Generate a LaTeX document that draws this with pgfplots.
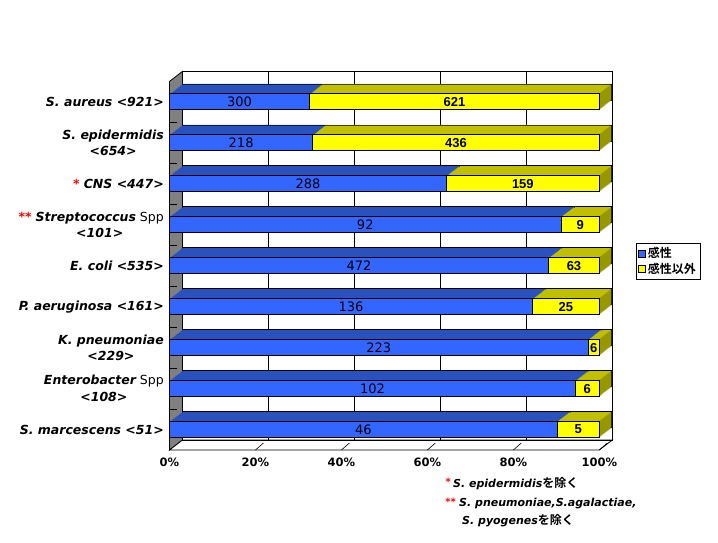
\documentclass[border=0pt]{standalone}
\usepackage{pgfplots}
\pgfplotsset{compat=1.18}
\usepackage{pgfplotstable}
\usepackage{fontspec}
\setmainfont{DejaVu Sans}[ItalicFont={DejaVu Sans Oblique},BoldFont={DejaVu Sans Bold},BoldItalicFont={DejaVu Sans Bold Oblique}]
\newfontfamily\cjk{Noto Sans CJK JP}[BoldFont={Noto Sans CJK JP Bold}]
\newfontfamily\numfont{Liberation Sans}[BoldFont={Liberation Sans Bold}]
\definecolor{fblue}{RGB}{51,102,255}
\definecolor{tblue}{RGB}{42,82,190}
\definecolor{fyel}{RGB}{255,255,0}
\definecolor{tyel}{RGB}{192,192,0}
\definecolor{syel}{RGB}{128,128,0}
\definecolor{wallc}{RGB}{128,128,128}

\pgfplotstableread{
y s r
0 300 621
1 218 436
2 288 159
3 92 9
4 472 63
5 136 25
6 223 6
7 102 6
8 46 5
}\data

\newcommand{\lab}[1]{{\bfseries\itshape #1}}

\pgfplotsset{
 base/.style={
   scale only axis, width=429.8pt, height=368.6pt,
   xmin=0, xmax=100, ymin=-0.5, ymax=8.5, y dir=reverse,
   anchor=south west, clip=false,
 },
 copy/.style={base, hide axis, xbar stacked, bar width=16pt},
}

\begin{document}
\begin{tikzpicture}
% left wall
\draw[fill=wallc, line width=0.8pt] (169.5pt,93pt) -- (169.5pt,461.6pt) -- (182.5pt,471.6pt) -- (182.5pt,103pt) -- cycle;
\foreach \j in {1,...,8} \draw[line width=0.7pt] (169.5pt,{(461.6-\j*40.96)*1pt}) -- ++(7pt,0pt);
% floor
\draw[fill=white, line width=0.8pt] (169.5pt,93pt) -- (599.3pt,93pt) -- (612.3pt,103pt) -- (182.5pt,103pt) -- cycle;
\foreach \i in {1,...,5} \draw[line width=0.6pt] ({(169.5+\i*85.96)*1pt},93pt) -- ++(8pt,7pt);
% back wall
\begin{axis}[base, at={(182.5pt,103pt)}, xtick={0,20,...,100}, xticklabels={}, ytick=\empty,
  xmajorgrids, grid style={black, line width=0.8pt}, axis line style={black, line width=0.8pt},
  major tick length=0pt]
\addplot[draw=none] coordinates {(0,0)};
\end{axis}
% 3D depth of the bars
\foreach \k in {13,12,...,1}{
 \ifnum\k=13 \def\ed{black}\else\def\ed{none}\fi
 \begin{axis}[copy, at={({(169.5+\k)*1pt},{(93+\k*10/13)*1pt})}]
  \addplot[fill=tblue, draw=\ed, line width=0.6pt] table[y=y, x expr={\thisrow{s}/(\thisrow{s}+\thisrow{r})*100}]\data;
  \addplot[fill=tyel, draw=\ed, line width=0.6pt] table[y=y, x expr={\thisrow{r}/(\thisrow{s}+\thisrow{r})*100-0.2327}]\data;
  \addplot[fill=syel, draw=\ed, line width=0.6pt] table[y=y, x expr=0.2327]\data;
 \end{axis}
}
% front faces
\begin{axis}[base, at={(169.5pt,93pt)}, xbar stacked, bar width=16pt,
  axis line style={draw=none}, major tick length=0pt,
  xtick={0,20,...,100}, xticklabels={0\%,20\%,40\%,60\%,80\%,100\%},
  xticklabel style={font=\bfseries\fontsize{11.5}{12}\selectfont, inner sep=0pt, anchor=north, yshift=-8pt},
  ytick={0,...,8},
  yticklabels={
   {\lab{S. aureus <921>}},
   {\lab{S. epidermidis}\\\lab{<654>}},
   {\llap{\color{red}\bfseries *\hspace{4pt}}\lab{CNS <447>}},
   {\llap{\color{red}\bfseries **\hspace{4pt}}\lab{Streptococcus} Spp\\\lab{<101>}},
   {\lab{E. coli <535>}},
   {\lab{P. aeruginosa <161>}},
   {\lab{K. pneumoniae}\\\lab{<229>}},
   {\lab{Enterobacter} Spp\\\lab{<108>}},
   {\lab{S. marcescens <51>}}},
  yticklabel style={align=center, font=\fontsize{12.5}{16.5}\selectfont, inner sep=0pt, xshift=-5.5pt},
  legend style={at={(1.0854,0.5616)}, anchor=north west, draw=black, line width=0.8pt,
    font=\cjk\bfseries\fontsize{12}{13}\selectfont, inner xsep=2pt, inner ysep=2pt,
    row sep=0pt, cells={anchor=west}},
  ]
\addplot[fill=fblue, draw=black, line width=0.8pt,
  legend image code/.code={\draw[fill=fblue,draw=black,line width=0.5pt] (0pt,-3.5pt) rectangle (7pt,3.5pt);}]
  table[y=y, x expr={\thisrow{s}/(\thisrow{s}+\thisrow{r})*100}]\data;
\addplot[fill=fyel, draw=black, line width=0.8pt,
  legend image code/.code={\draw[fill=fyel,draw=black,line width=0.5pt] (0pt,-3.5pt) rectangle (7pt,3.5pt);}]
  table[y=y, x expr={\thisrow{r}/(\thisrow{s}+\thisrow{r})*100}]\data;
\legend{感性,感性以外}
\end{axis}
% value labels
\begin{axis}[base, hide axis, at={(169.5pt,93pt)}, /pgf/number format/assume math mode=true]
\addplot[draw=none, mark=none, nodes near coords, point meta=explicit,
  every node near coord/.append style={anchor=center, text=black, font=\fontsize{13}{14}\selectfont}]
  table[y=y, x expr={\thisrow{s}/(\thisrow{s}+\thisrow{r})*50}, meta=s]\data;
\addplot[draw=none, mark=none, nodes near coords, point meta=explicit,
  every node near coord/.append style={anchor=center, text=black, font=\numfont\bfseries\fontsize{13}{14}\selectfont}]
  table[y=y, x expr={(\thisrow{s}+\thisrow{r}/2)/(\thisrow{s}+\thisrow{r})*100}, meta=r]\data;
\end{axis}
% footnotes
\node[anchor=east, inner sep=0pt, text=red, font=\fontsize{10}{10}\selectfont\bfseries] at (451pt,61pt) {*};
\node[anchor=west, inner sep=0pt] at (453pt,59pt) {\fontsize{11}{13}\selectfont\bfseries\itshape S. epidermidis{\cjk\upshape\fontsize{12}{13}\selectfont を除く}};
\node[anchor=east, inner sep=0pt, text=red, font=\fontsize{10}{10}\selectfont\bfseries] at (456pt,41pt) {**};
\node[anchor=west, inner sep=0pt] at (459pt,39pt) {\fontsize{11}{13}\selectfont\bfseries\itshape S. pneumoniae,S.agalactiae,};
\node[anchor=west, inner sep=0pt] at (462pt,22.3pt) {\fontsize{11}{13}\selectfont\bfseries\itshape S. pyogenes{\cjk\upshape\fontsize{12}{13}\selectfont を除く}};
\pgfresetboundingbox
\path[use as bounding box] (0pt,0pt) rectangle (718pt,543pt);
\end{tikzpicture}
\end{document}
